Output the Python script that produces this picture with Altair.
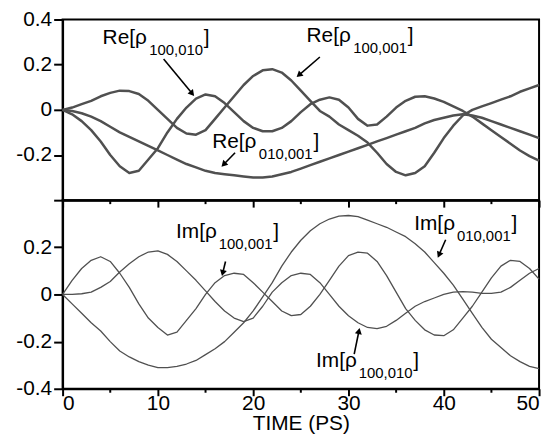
import math
import altair as alt
import pandas as pd

# ---------------- data ----------------
time_ps = list(range(51))

re_100_001 = [0.0, 0.01, 0.025, 0.04, 0.06, 0.075, 0.085, 0.083, 0.07, 0.04,
              0.0, -0.04, -0.08, -0.105, -0.11, -0.09, -0.04, 0.01, 0.06, 0.11,
              0.15, 0.175, 0.18, 0.165, 0.13, 0.085, 0.04, -0.005, -0.03, -0.065,
              -0.09, -0.115, -0.145, -0.19, -0.24, -0.275, -0.29, -0.28, -0.25, -0.19,
              -0.125, -0.07, -0.025, 0.0, 0.015, 0.03, 0.045, 0.06, 0.08, 0.095, 0.11]
re_100_010 = [0.0, -0.02, -0.05, -0.09, -0.14, -0.2, -0.25, -0.28, -0.27, -0.22,
              -0.17, -0.1, -0.04, 0.01, 0.05, 0.068, 0.06, 0.03, -0.01, -0.05,
              -0.08, -0.095, -0.095, -0.08, -0.05, -0.01, 0.025, 0.045, 0.055, 0.045,
              0.01, -0.04, -0.07, -0.065, -0.03, 0.01, 0.04, 0.058, 0.06, 0.05,
              0.035, 0.015, -0.005, -0.03, -0.06, -0.09, -0.12, -0.15, -0.18, -0.205, -0.225]
re_010_001 = [0.0, -0.005, -0.015, -0.03, -0.05, -0.075, -0.1, -0.12, -0.14, -0.16,
              -0.18, -0.2, -0.22, -0.24, -0.255, -0.27, -0.28, -0.285, -0.29, -0.295,
              -0.3, -0.3, -0.295, -0.285, -0.275, -0.26, -0.245, -0.23, -0.215, -0.2,
              -0.185, -0.17, -0.155, -0.14, -0.125, -0.11, -0.095, -0.08, -0.06, -0.045,
              -0.035, -0.025, -0.02, -0.025, -0.035, -0.05, -0.065, -0.08, -0.095, -0.11, -0.125]

im_100_001 = [0.0, 0.06, 0.11, 0.145, 0.16, 0.14, 0.09, 0.03, -0.04, -0.1,
              -0.14, -0.172, -0.16, -0.11, -0.06, 0.0, 0.05, 0.08, 0.09, 0.085,
              0.05, 0.01, -0.03, -0.07, -0.09, -0.085, -0.05, 0.0, 0.06, 0.12,
              0.165, 0.18, 0.175, 0.14, 0.08, 0.01, -0.06, -0.11, -0.15, -0.172,
              -0.175, -0.15, -0.1, -0.05, 0.01, 0.07, 0.12, 0.145, 0.14, 0.11, 0.065]
im_100_010 = [0.0, 0.0, 0.003, 0.01, 0.03, 0.055, 0.095, 0.13, 0.16, 0.18,
              0.185, 0.17, 0.14, 0.1, 0.06, 0.015, -0.03, -0.07, -0.1, -0.115,
              -0.1, -0.05, 0.01, 0.05, 0.08, 0.09, 0.085, 0.05, 0.0, -0.05,
              -0.09, -0.12, -0.14, -0.145, -0.135, -0.11, -0.08, -0.05, -0.03, -0.015,
              0.0, 0.01, 0.012, 0.01, 0.005, 0.005, 0.01, 0.03, 0.06, 0.09, 0.11]
im_010_001 = [0.0, -0.04, -0.08, -0.12, -0.155, -0.2, -0.24, -0.265, -0.285, -0.3,
              -0.31, -0.31, -0.305, -0.295, -0.28, -0.255, -0.23, -0.2, -0.16, -0.12,
              -0.07, -0.01, 0.05, 0.12, 0.18, 0.23, 0.27, 0.3, 0.32, 0.332,
              0.335, 0.33, 0.315, 0.3, 0.285, 0.265, 0.245, 0.215, 0.18, 0.135,
              0.09, 0.04, -0.02, -0.08, -0.14, -0.19, -0.225, -0.26, -0.285, -0.305, -0.315]

# annotation labels: main text, subscript, anchor (ps, value) of main baseline start
top_label_main = ["Re[ρ", "Re[ρ", "Re[ρ"]
top_label_sub = ["100,010", "100,001", "010,001"]
top_label_t = [4.2, 25.6, 15.7]
top_label_v = [0.29, 0.30, -0.169]

bot_label_main = ["Im[ρ", "Im[ρ", "Im[ρ"]
bot_label_sub = ["100,001", "010,001", "100,010"]
bot_label_t = [11.9, 36.9, 26.6]
bot_label_v = [0.238, 0.274, -0.309]

# arrows: tail (t, v) -> tip (t, v)
top_arrow_tail_t = [10.6, 27.0, 18.1]
top_arrow_tail_v = [0.225, 0.234, -0.19]
top_arrow_tip_t = [13.6, 24.8, 16.9]
top_arrow_tip_v = [0.072, 0.154, -0.242]

bot_arrow_tail_t = [17.1, 40.2, 30.6]
bot_arrow_tail_v = [0.14, 0.232, -0.253]
bot_arrow_tip_t = [16.8, 39.5, 31.1]
bot_arrow_tip_v = [0.091, 0.168, -0.155]

minor_ticks = [5, 15, 25, 35, 45]

# ---------------- styling ----------------
FONT = "Liberation Sans"
W = 480
H_TOP = 182
H_BOT = 190


def fmt_expr(hide_below=None):
    base = "datum.value == 0 ? '0' : (datum.value < 0 ? '-' : '') + format(abs(datum.value), '.1f')"
    if hide_below is not None:
        return f"datum.value < {hide_below} ? '' : ({base})"
    return base


def panel(series, labels, arrows, height, yvals, label_expr, bottom, sub_dx, br_dx):
    rows = []
    for name, vals in series.items():
        for t, v in zip(time_ps, vals):
            rows.append({"t": t, "v": v, "s": name})
    df = pd.DataFrame(rows)

    if bottom:
        xaxis = alt.Axis(values=[0, 10, 20, 30, 40, 50], title="TIME (PS)", tickSize=7,
                         labelPadding=-3, titleY=41, titleBaseline="alphabetic",
                         titleFontSize=21, grid=False)
    else:
        xaxis = alt.Axis(values=[0, 10, 20, 30, 40, 50], title=None, labels=False,
                         tickSize=7, grid=False)
    x = alt.X("t:Q", scale=alt.Scale(domain=[0, 50], nice=False, zero=False), axis=xaxis)
    y = alt.Y("v:Q", scale=alt.Scale(domain=[-0.4, 0.4], nice=False, zero=False),
              axis=alt.Axis(values=yvals, labelExpr=label_expr, title=None, tickSize=9,
                            labelPadding=2, grid=False))

    lines = alt.Chart(df).mark_line(
        color="#505050",
        strokeWidth=2.5 if not bottom else 1.3, strokeJoin="round"
    ).encode(x=x, y=y, detail="s:N")

    lmain, lsub, lt, lv = labels
    ldf = pd.DataFrame({"main": lmain, "sub": lsub, "br": ["]"] * len(lmain), "t": lt, "v": lv})
    base_txt = alt.Chart(ldf)
    t_main = base_txt.mark_text(align="left", baseline="alphabetic", font=FONT,
                                color="black", fontSize=21).encode(x=x, y=y, text="main:N")
    t_sub = base_txt.mark_text(align="left", baseline="alphabetic", font=FONT,
                               color="black", fontSize=15, dx=sub_dx, dy=11).encode(
        x=x, y=y, text="sub:N")
    t_br = base_txt.mark_text(align="left", baseline="alphabetic", font=FONT,
                              color="black", fontSize=21, dx=br_dx).encode(
        x=x, y=y, text="br:N")

    tt, tv, pt, pv = arrows
    xs = W / 50.0
    ys = height / 0.8
    angs = []
    for a, b, c, d in zip(tt, tv, pt, pv):
        dx = (c - a) * xs
        dy = -(d - b) * ys
        angs.append(math.degrees(math.atan2(dx, -dy)) % 360)
    adf = pd.DataFrame({"t": tt, "v": tv, "t2": pt, "v2": pv})
    hdf = pd.DataFrame({"t": pt, "v": pv, "ang": angs})
    shafts = alt.Chart(adf).mark_rule(color="black", strokeWidth=1.6).encode(
        x=x, y=y, x2="t2:Q", y2="v2:Q")
    heads = alt.Chart(hdf).mark_point(
        shape="triangle-up", filled=True, color="black", opacity=1, size=50
    ).encode(x=x, y=y, angle=alt.Angle("ang:Q", scale=None))

    mdf = pd.DataFrame({"t": minor_ticks})
    minor = alt.Chart(mdf).mark_rule(color="black", strokeWidth=2).encode(
        x=x, y=alt.value(height), y2=alt.value(height + 4))

    return alt.layer(lines, t_main, t_sub, t_br, shafts, heads, minor).properties(
        width=W, height=height)


top = panel(
    {"Re100_001": re_100_001, "Re100_010": re_100_010, "Re010_001": re_010_001},
    (top_label_main, top_label_sub, top_label_t, top_label_v),
    (top_arrow_tail_t, top_arrow_tail_v, top_arrow_tip_t, top_arrow_tip_v),
    H_TOP, [0.4, 0.2, 0, -0.2, -0.4], fmt_expr(-0.3), False, 47, 102)

bottom = panel(
    {"Im100_001": im_100_001, "Im100_010": im_100_010, "Im010_001": im_010_001},
    (bot_label_main, bot_label_sub, bot_label_t, bot_label_v),
    (bot_arrow_tail_t, bot_arrow_tail_v, bot_arrow_tip_t, bot_arrow_tip_v),
    H_BOT, [0.2, 0, -0.2, -0.4], fmt_expr(), True, 43, 98)

chart = alt.vconcat(top, bottom, spacing=0, bounds="flush").properties(
    padding={"left": 6, "top": -2, "right": 5, "bottom": 0},
    background="white"
).configure_view(
    stroke="black", strokeWidth=2
).configure_axis(
    domainColor="black", domainWidth=2, tickColor="black", tickWidth=2,
    labelFont=FONT, labelFontSize=21, labelColor="black",
    titleFont=FONT, titleFontSize=20, titleFontWeight="normal", titleColor="black"
)

chart.save("out.html", embed_options={"renderer": "svg", "actions": False})
